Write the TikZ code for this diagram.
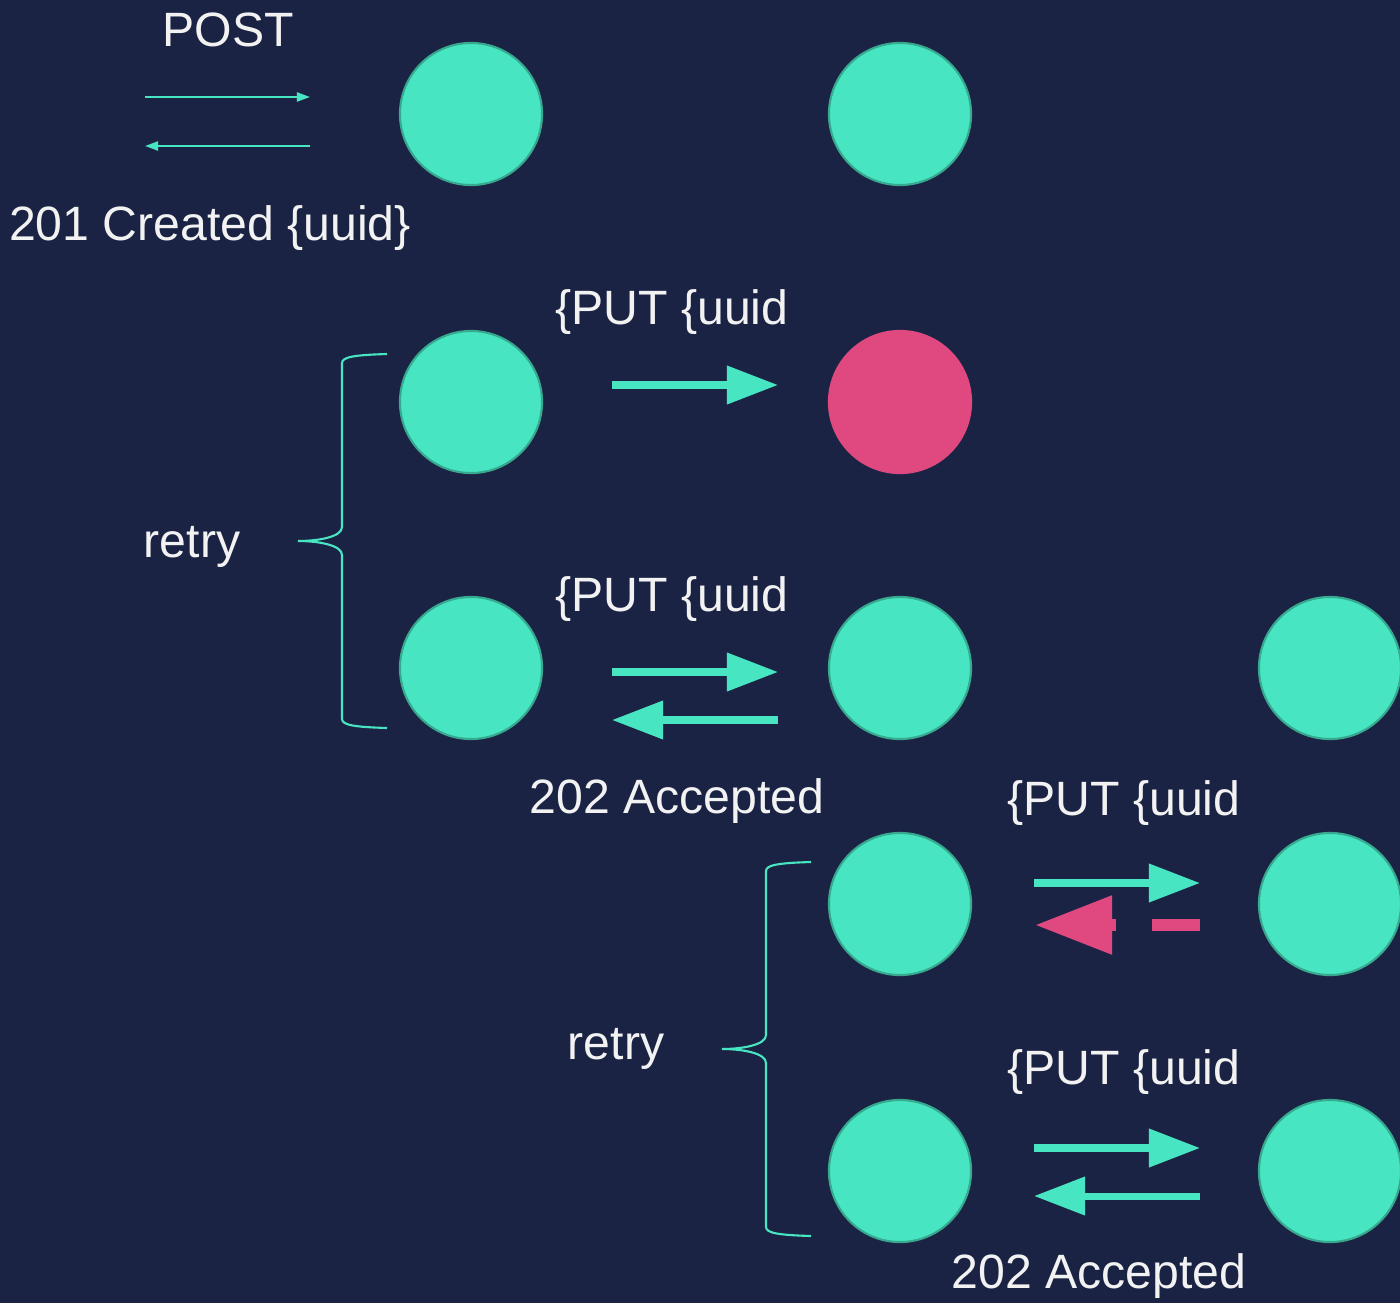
\documentclass[tikz,border=0pt]{standalone}
\usepackage{fontspec}
\setmainfont{Liberation Sans}
\usetikzlibrary{arrows.meta}
\definecolor{bg}{HTML}{1B2344}
\definecolor{mint}{HTML}{48E5C2}
\definecolor{mintedge}{HTML}{36A98E}
\definecolor{rose}{HTML}{E0497F}
\tikzset{
	ball/.style={circle, fill=mint, draw=mintedge, line width=0.6pt, minimum size=1.42cm, inner sep=0pt},
	badball/.style={ball, fill=rose, draw=rose},
	lbl/.style={text=white!95!black, font=\fontsize{13.7}{16}\selectfont, inner sep=0pt, anchor=base},
	slim/.style={draw=mint, line width=0.6pt, -{Triangle[length=0.13cm,width=0.09cm]}},
	fat/.style={draw=mint, line width=2pt, -{Triangle[length=0.51cm,width=0.37cm]}},
	failed/.style={draw=rose, line width=3.4pt, dash pattern=on 0.48cm off 0.36cm, -{Triangle[length=0.77cm,width=0.56cm]}},
	brace line/.style={draw=mint, line width=0.6pt}
}
\begin{document}
\begin{tikzpicture}[x=0.01cm, y=-0.01cm]
		%%%%% START %%%%%
		
		\fill[bg] (0, 0) rectangle (1400, 1303);
		\useasboundingbox (0, 0) rectangle (1400, 1303);
		
		% create
		\node[ball] (cli0) at (471, 114) {};
		\node[ball] (srv0) at (900, 114) {};
		\node[lbl] (post) at (228, 47) {POST};
		\node[lbl] (created) at (210, 240) {201 Created \{uuid\}};
		\coordinate (p0a) at (145, 97);
		\coordinate (p0b) at (310, 97);
		\coordinate (r0a) at (310, 146);
		\coordinate (r0b) at (145, 146);
		\draw[slim] (p0a) -- (p0b);
		\draw[slim] (r0a) -- (r0b);
		
		% first put, server down
		\node[ball] (cli1) at (471, 402) {};
		\node[badball] (srv1) at (900, 402) {};
		\node[lbl] (put1) at (672, 324) {\{PUT \{uuid};
		\coordinate (p1a) at (612, 385);
		\coordinate (p1b) at (778, 385);
		\draw[fat] (p1a) -- (p1b);
		
		% retried put
		\node[ball] (cli2) at (471, 668) {};
		\node[ball] (srv2) at (900, 668) {};
		\node[ball] (db2) at (1330, 668) {};
		\node[lbl] (put2) at (672, 611) {\{PUT \{uuid};
		\node[lbl] (acc2) at (677, 813) {202 Accepted};
		\coordinate (p2a) at (612, 672);
		\coordinate (p2b) at (778, 672);
		\coordinate (r2a) at (778, 720);
		\coordinate (r2b) at (612, 720);
		\draw[fat] (p2a) -- (p2b);
		\draw[fat] (r2a) -- (r2b);
		
		\node[lbl] (retry1) at (192, 557) {retry};
		\draw[brace line, shift={(298, 541)}] (89, -187) .. controls (56, -186) and (44, -184) .. (44, -178) -- (44, -14) .. controls (44, -4) and (20, 0) .. (0, 0) .. controls (20, 0) and (44, 4) .. (44, 14) -- (44, 178) .. controls (44, 184) and (56, 186) .. (89, 187);
		
		% put on to the next service, reply lost
		\node[ball] (srv3) at (900, 904) {};
		\node[ball] (db3) at (1330, 904) {};
		\node[lbl] (put3) at (1124, 815) {\{PUT \{uuid};
		\coordinate (p3a) at (1034, 883);
		\coordinate (p3b) at (1200, 883);
		\coordinate (r3a) at (1200, 925);
		\coordinate (r3b) at (1035, 925);
		\draw[fat] (p3a) -- (p3b);
		\draw[failed] (r3a) -- (r3b);
		
		% retried again
		\node[ball] (srv4) at (900, 1171) {};
		\node[ball] (db4) at (1330, 1171) {};
		\node[lbl] (put4) at (1124, 1084) {\{PUT \{uuid};
		\node[lbl] (acc4) at (1099, 1288) {202 Accepted};
		\coordinate (p4a) at (1034, 1148);
		\coordinate (p4b) at (1200, 1148);
		\coordinate (r4a) at (1200, 1196);
		\coordinate (r4b) at (1034, 1196);
		\draw[fat] (p4a) -- (p4b);
		\draw[fat] (r4a) -- (r4b);
		
		\node[lbl] (retry2) at (616, 1059) {retry};
		\draw[brace line, shift={(722, 1049)}] (89, -187) .. controls (56, -186) and (44, -184) .. (44, -178) -- (44, -14) .. controls (44, -4) and (20, 0) .. (0, 0) .. controls (20, 0) and (44, 4) .. (44, 14) -- (44, 178) .. controls (44, 184) and (56, 186) .. (89, 187);
		
		%%%%% END %%%%%
\end{tikzpicture}
\end{document}
